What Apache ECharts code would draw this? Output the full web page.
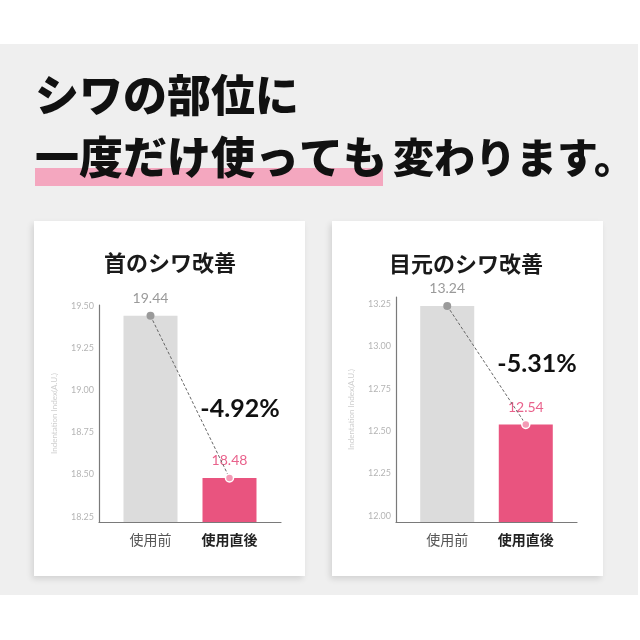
<!DOCTYPE html>
<html><head><meta charset="utf-8">
<script src="https://cdn.jsdelivr.net/npm/echarts@6/dist/echarts.min.js"></script>
<style>html,body{margin:0;padding:0;background:#fff}#c{width:640px;height:640px}</style>
</head><body><div id="c"></div>
<script>
const categories = ['使用前', '使用直後'];
const neckValues = [19.44, 18.48];
const eyeValues = [13.24, 12.54];
const neckTicks = [18.25, 18.5, 18.75, 19.0, 19.25, 19.5];
const eyeTicks = [12.0, 12.25, 12.5, 12.75, 13.0, 13.25];
const panelTitles = ['首のシワ改善', '目元のシワ改善'];
const changeLabels = ['-4.92%', '-5.31%'];
const headline1 = 'シワの部位に';
const headline2a = '一度だけ使っても';
const headline2b = '変わります。';
const yName = 'Indentation Index(A.U.)';

const GRAY = '#dcdcdc', PINK = '#e9547f';
const JP = '"Noto Sans CJK JP", sans-serif';
const NUM = 'Lato, "Noto Sans", sans-serif';

function pts(vals){ return vals.map((v,i)=>[i,v]); }

function xAxisFor(gi){
  return {type:'value', gridIndex:gi, min:-0.652, max:1.652,
    axisLine:{show:true, onZero:false, lineStyle:{color:'#7a7a7a', width:1.2}},
    axisTick:{show:false}, splitLine:{show:false},
    axisLabel:{customValues:[0,1], margin:11,
      formatter:(v)=> v===0 ? '{a|'+categories[0]+'}' : '{b|'+categories[1]+'}',
      rich:{a:{fontFamily:JP, fontSize:14, color:'#555', fontWeight:'normal'},
            b:{fontFamily:JP, fontSize:14, color:'#222', fontWeight:'bold'}}}};
}
function yAxisFor(gi, min, max, ticks){
  return {type:'value', gridIndex:gi, min:min, max:max,
    name:yName, nameLocation:'middle', nameGap:41, nameRotate:90,
    nameTextStyle:{fontFamily:NUM, fontSize:8, color:'#cfcfcf'},
    axisLine:{show:true, onZero:false, lineStyle:{color:'#7a7a7a', width:1.2}},
    axisTick:{show:false}, splitLine:{show:false},
    axisLabel:{customValues:ticks, margin:5, fontFamily:NUM, fontSize:9, color:'#b5b5b5',
      formatter:(v)=>v.toFixed(2)}};
}
function barSeries(gi, vals){
  return {type:'bar', xAxisIndex:gi, yAxisIndex:gi, barWidth:54, z:2,
    data: pts(vals).map((p,i)=>({value:p, itemStyle:{color: i===0?GRAY:PINK},
      label:{color: i===0?'#9a9a9a':'#e9628c'}})),
    label:{show:true, position:'top', distance:10, fontFamily:NUM, fontSize:14,
      formatter:(p)=>p.value[1].toFixed(2)}};
}
function lineSeries(gi, vals){
  return {type:'line', xAxisIndex:gi, yAxisIndex:gi, z:5, symbol:'circle', symbolSize:8,
    lineStyle:{color:'#666', width:1, type:[3,2]},
    data: pts(vals).map((p,i)=>({value:p,
      itemStyle: i===0 ? {color:'#9a9a9a', borderColor:'#9a9a9a', borderWidth:0}
                       : {color:'#f39ab5', borderColor:'#fff', borderWidth:1.5}})),
    label:{show:false}, animation:false};
}

const chart = echarts.init(document.getElementById('c'), null, {renderer:'canvas'});
chart.setOption({
  animation:false,
  backgroundColor:'#ffffff',
  grid:[{left:99, top:305, width:182, height:217},
        {left:396, top:297, width:181, height:225}],
  xAxis:[xAxisFor(0), xAxisFor(1)],
  yAxis:[yAxisFor(0, 18.219, 19.504, neckTicks), yAxisFor(1, 11.963, 13.293, eyeTicks)],
  series:[barSeries(0, neckValues), lineSeries(0, neckValues),
          barSeries(1, eyeValues), lineSeries(1, eyeValues)],
  graphic:[
    {type:'rect', z:-100, shape:{x:0, y:44, width:638, height:551}, style:{fill:'#efefef'}},
    {type:'rect', z:-90, shape:{x:34, y:221, width:271, height:355},
      style:{fill:'#fff', shadowBlur:6, shadowColor:'rgba(0,0,0,0.12)', shadowOffsetX:-2, shadowOffsetY:3}},
    {type:'rect', z:-90, shape:{x:332, y:221, width:271, height:355},
      style:{fill:'#fff', shadowBlur:6, shadowColor:'rgba(0,0,0,0.12)', shadowOffsetX:-2, shadowOffsetY:3}},
    {type:'rect', z:-80, shape:{x:35, y:168, width:348, height:18}, style:{fill:'#f4a7bf'}},
    {type:'text', z:10, x:35, y:95, style:{text:headline1, font:'900 44px '+JP, fill:'#111', textVerticalAlign:'middle'}},
    {type:'text', z:10, x:35, y:157, style:{text:headline2a, font:'900 44px '+JP, fill:'#111', textVerticalAlign:'middle'}},
    {type:'text', z:10, x:393, y:157, style:{text:headline2b, font:'900 41px '+JP, fill:'#111', textVerticalAlign:'middle'}},
    {type:'text', z:10, x:170, y:263, style:{text:panelTitles[0], font:'bold 22px '+JP, fill:'#1a1a1a', textAlign:'center', textVerticalAlign:'middle'}},
    {type:'text', z:10, x:466, y:264, style:{text:panelTitles[1], font:'bold 22px '+JP, fill:'#1a1a1a', textAlign:'center', textVerticalAlign:'middle'}},
    {type:'text', z:10, x:240, y:409, style:{text:changeLabels[0], font:'bold 25px '+NUM, fill:'#111', textAlign:'center', textVerticalAlign:'middle'}},
    {type:'text', z:10, x:537, y:364, style:{text:changeLabels[1], font:'bold 25px '+NUM, fill:'#111', textAlign:'center', textVerticalAlign:'middle'}}
  ]
});
</script></body></html>
